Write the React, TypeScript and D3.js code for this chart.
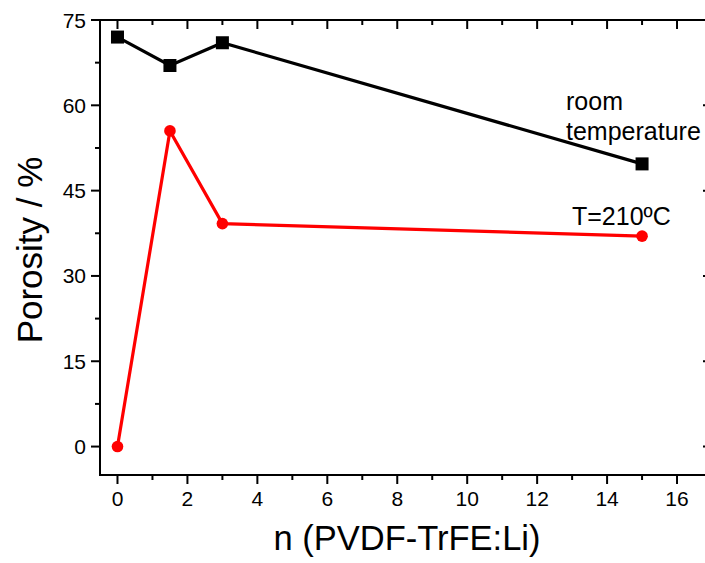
import React from "react";
import * as d3 from "d3";

const nValues = [0, 1.5, 3, 15];
const roomTemp = [72, 67, 71, 49.7];
const hot210 = [0, 55.5, 39.2, 37];
const xTicks = [0, 2, 4, 6, 8, 10, 12, 14, 16];
const yTicks = [0, 15, 30, 45, 60, 75];

const W = 705;
const H = 563;
const M = { left: 100, top: 20, right: 712, bottom: 475 };
const FONT = "'Liberation Sans', Arial, sans-serif";

export default function App() {
  const x = d3.scaleLinear().domain([-0.5, 17]).range([M.left, M.right]);
  const y = d3.scaleLinear().domain([-5, 75]).range([M.bottom, M.top]);
  const line = d3
    .line<number>()
    .x((_, i) => x(nValues[i]))
    .y((d) => y(d));

  const xMinor = d3.range(0, 17.01, 1).filter((v) => !xTicks.includes(v));
  const yMinor = d3.range(7.5, 75, 15);

  return (
    <svg
      width={W}
      height={H}
      style={{ position: "absolute", left: 0, top: 0, background: "#fff" }}
      fontFamily={FONT}
    >
      {/* frame */}
      <g stroke="#000" strokeWidth={2} fill="none">
        <line x1={M.left} y1={M.top} x2={M.left} y2={M.bottom} />
        <line x1={M.left - 1} y1={M.bottom} x2={M.right} y2={M.bottom} />
        <line x1={M.left - 1} y1={M.top} x2={M.right} y2={M.top} />
        <line x1={M.right} y1={M.top} x2={M.right} y2={M.bottom} />
      </g>
      {/* ticks */}
      <g stroke="#000" strokeWidth={2}>
        {xTicks.map((t) => (
          <g key={"xt" + t}>
            <line x1={x(t)} x2={x(t)} y1={M.bottom} y2={M.bottom + 9} />
            <line x1={x(t)} x2={x(t)} y1={M.top} y2={M.top + 9} />
          </g>
        ))}
        {xMinor.map((t) => (
          <g key={"xm" + t}>
            <line x1={x(t)} x2={x(t)} y1={M.bottom} y2={M.bottom + 5} />
            <line x1={x(t)} x2={x(t)} y1={M.top} y2={M.top + 5} />
          </g>
        ))}
        {yTicks.map((t) => (
          <g key={"yt" + t}>
            <line x1={M.left - 9} x2={M.left} y1={y(t)} y2={y(t)} />
            <line x1={M.right - 9} x2={M.right} y1={y(t)} y2={y(t)} />
          </g>
        ))}
        {yMinor.map((t) => (
          <g key={"ym" + t}>
            <line x1={M.left - 5} x2={M.left} y1={y(t)} y2={y(t)} />
            <line x1={M.right - 5} x2={M.right} y1={y(t)} y2={y(t)} />
          </g>
        ))}
      </g>
      {/* tick labels */}
      <g fontSize={21} fill="#000">
        {xTicks.map((t) => (
          <text key={"xl" + t} x={x(t)} y={M.bottom + 31} textAnchor="middle">
            {t}
          </text>
        ))}
        {yTicks.map((t) => (
          <text key={"yl" + t} x={M.left - 14} y={y(t) + 7.5} textAnchor="end">
            {t}
          </text>
        ))}
      </g>
      {/* axis titles */}
      <text x={407} y={550} fontSize={34.5} textAnchor="middle" fill="#000">
        n (PVDF-TrFE:Li)
      </text>
      <text
        transform={`translate(42,250) rotate(-90)`}
        fontSize={35}
        textAnchor="middle"
        fill="#000"
      >
        Porosity / %
      </text>
      {/* series */}
      <path d={line(roomTemp) || ""} fill="none" stroke="#000" strokeWidth={3.2} />
      {roomTemp.map((v, i) => (
        <rect
          key={"s" + i}
          x={x(nValues[i]) - 6.5}
          y={y(v) - 6.5}
          width={13}
          height={13}
          fill="#000"
        />
      ))}
      <path d={line(hot210) || ""} fill="none" stroke="#ff0000" strokeWidth={3.2} />
      {hot210.map((v, i) => (
        <circle key={"c" + i} cx={x(nValues[i])} cy={y(v)} r={5.8} fill="#ff0000" />
      ))}
      {/* annotations */}
      <g fontSize={25} fill="#000">
        <text x={566} y={110}>room</text>
        <text x={566} y={140}>temperature</text>
        <text x={572} y={225}>T=210ºC</text>
      </g>
    </svg>
  );
}
